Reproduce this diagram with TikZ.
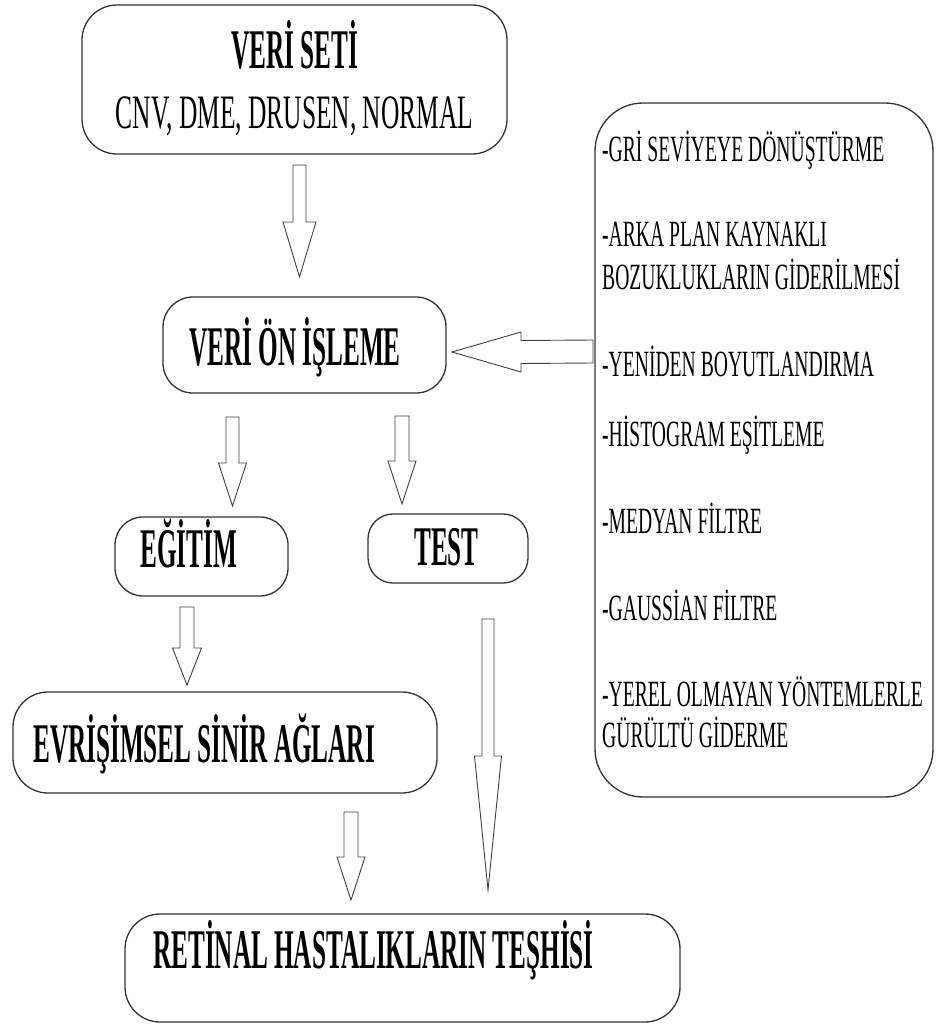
\documentclass[tikz,border=0pt]{standalone}
\usepackage{fontspec}
\setmainfont{Liberation Serif}
\newfontfamily\headfont[FakeStretch=0.45]{Liberation Serif}
\newfontfamily\bodyfont[FakeStretch=0.53]{Liberation Serif}
\usetikzlibrary{calc}

% hollow block arrow pointing down: start, tip, head length, shaft half-width, head half-width
\newcommand{\blockdown}[5]{%
  \draw[blockarrow] ($(#1)+(-#4,0)$) -- ($(#1)+(#4,0)$) -- ($(#2)+(#4,-#3)$)
    -- ($(#2)+(#5,-#3)$) -- (#2) -- ($(#2)+(-#5,-#3)$) -- ($(#2)+(-#4,-#3)$) -- cycle;}
% hollow block arrow pointing left: start, tip, head length, shaft half-width, head half-width
\newcommand{\blockleft}[5]{%
  \draw[blockarrow] ($(#1)+(0,-#4)$) -- ($(#1)+(0,#4)$) -- ($(#2)+(#3,#4)$)
    -- ($(#2)+(#3,#5)$) -- (#2) -- ($(#2)+(#3,-#5)$) -- ($(#2)+(#3,-#4)$) -- cycle;}

\begin{document}
\begin{tikzpicture}[x=1pt,y=-1pt,
  box/.style={draw=black!80, line width=1.3pt, rounded corners=#1,
    inner sep=0pt, outer sep=0pt},
  box/.default=30pt,
  blockarrow/.style={draw=black!75, line width=0.9pt, fill=white, line join=miter},
  title/.style={font=\headfont\bfseries\fontsize{56}{64}\selectfont, inner sep=0pt},
  sub/.style={font=\bodyfont\fontsize{48}{56}\selectfont, inner sep=0pt},
  item/.style={font=\bodyfont\fontsize{37}{41}\selectfont, inner sep=0pt, anchor=base west}]

\useasboundingbox (0,0) rectangle (935,1025);
\fill[white] (0,0) rectangle (935,1025);

% boxes
\node[box=35pt, minimum width=425pt, minimum height=149pt] (veriseti) at (294.5,79.5) {};
\node[box=30pt, minimum width=283pt, minimum height=96pt] (onisleme) at (304.5,345) {};
\node[box=28pt, minimum width=173pt, minimum height=79pt] (egitim) at (201.5,556.5) {};
\node[box=25pt, minimum width=160pt, minimum height=69pt] (test) at (448,548.5) {};
\node[box=35pt, minimum width=424pt, minimum height=101pt] (cnn) at (225,742.5) {};
\node[box=35pt, minimum width=555pt, minimum height=108pt] (teshis) at (402.5,968) {};
\node[box=48pt, minimum width=338pt, minimum height=694pt] (adimlar) at (764,450) {};

% box texts
\node[title, anchor=base] (tVeri) at (295,68) {VERİ SETİ};
\node[sub, anchor=base] (tSinif) at (294.5,128) {CNV, DME, DRUSEN, NORMAL};
\node[title, anchor=base] (tOn) at (295,365) {VERİ ÖN İŞLEME};
\node[title, anchor=base] (tEgitim) at (188.5,567) {EĞİTİM};
\node[title, anchor=base] (tTest) at (446.5,565) {TEST};
\node[title, anchor=base west] (tCnn) at (33,762) {EVRİŞİMSEL SİNİR AĞLARI};
\node[title, anchor=base west] (tTeshis) at (153,968) {RETİNAL HASTALIKLARIN TEŞHİSİ};

% preprocessing steps
\node[item] (s1) at (602,161) {-GRİ SEVİYEYE DÖNÜŞTÜRME};
\node[item] (s2a) at (602,246) {-ARKA PLAN KAYNAKLI};
\node[item] (s2b) at (602,289) {BOZUKLUKLARIN GİDERİLMESİ};
\node[item] (s3) at (602,376) {-YENİDEN BOYUTLANDIRMA};
\node[item] (s4) at (602,446) {-HİSTOGRAM EŞİTLEME};
\node[item] (s5) at (602,533) {-MEDYAN FİLTRE};
\node[item] (s6) at (602,620) {-GAUSSİAN FİLTRE};
\node[item] (s7a) at (602,706) {-YEREL OLMAYAN YÖNTEMLERLE};
\node[item] (s7b) at (602,747) {GÜRÜLTÜ GİDERME};

% arrow end points
\coordinate (a1s) at ($(veriseti.south)+(5,11)$);
\coordinate (a1t) at ($(onisleme.north)+(-5,-20)$);
\coordinate (a2s) at (232.5,417);
\coordinate (a2t) at ($(egitim.north)+(31,-11)$);
\coordinate (a3s) at (402,416);
\coordinate (a3t) at ($(test.north)+(-46,-10)$);
\coordinate (a4s) at ($(egitim.south)+(-14.5,11)$);
\coordinate (a4t) at ($(cnn.north)+(-38,-7)$);
\coordinate (a5s) at ($(cnn.south)+(126,19)$);
\coordinate (a5t) at ($(teshis.north)+(-51.5,-14)$);
\coordinate (a6s) at ($(test.south)+(40,36)$);
\coordinate (a6t) at ($(teshis.north)+(85.5,-24)$);
\coordinate (a7s) at ($(adimlar.west)+(-2,-98.5)$);
\coordinate (a7t) at ($(onisleme.east)+(6,7)$);

% connectors
\blockdown{a1s}{a1t}{55}{6.5}{16.5}
\blockdown{a2s}{a2t}{43}{6.5}{14}
\blockdown{a3s}{a3t}{43}{7}{14}
\blockdown{a4s}{a4t}{37}{7}{14.5}
\blockdown{a5s}{a5t}{43}{7}{14}
\blockdown{a6s}{a6t}{134}{6}{13.5}
\blockleft{a7s}{a7t}{69}{11.5}{20}
\end{tikzpicture}
\end{document}
